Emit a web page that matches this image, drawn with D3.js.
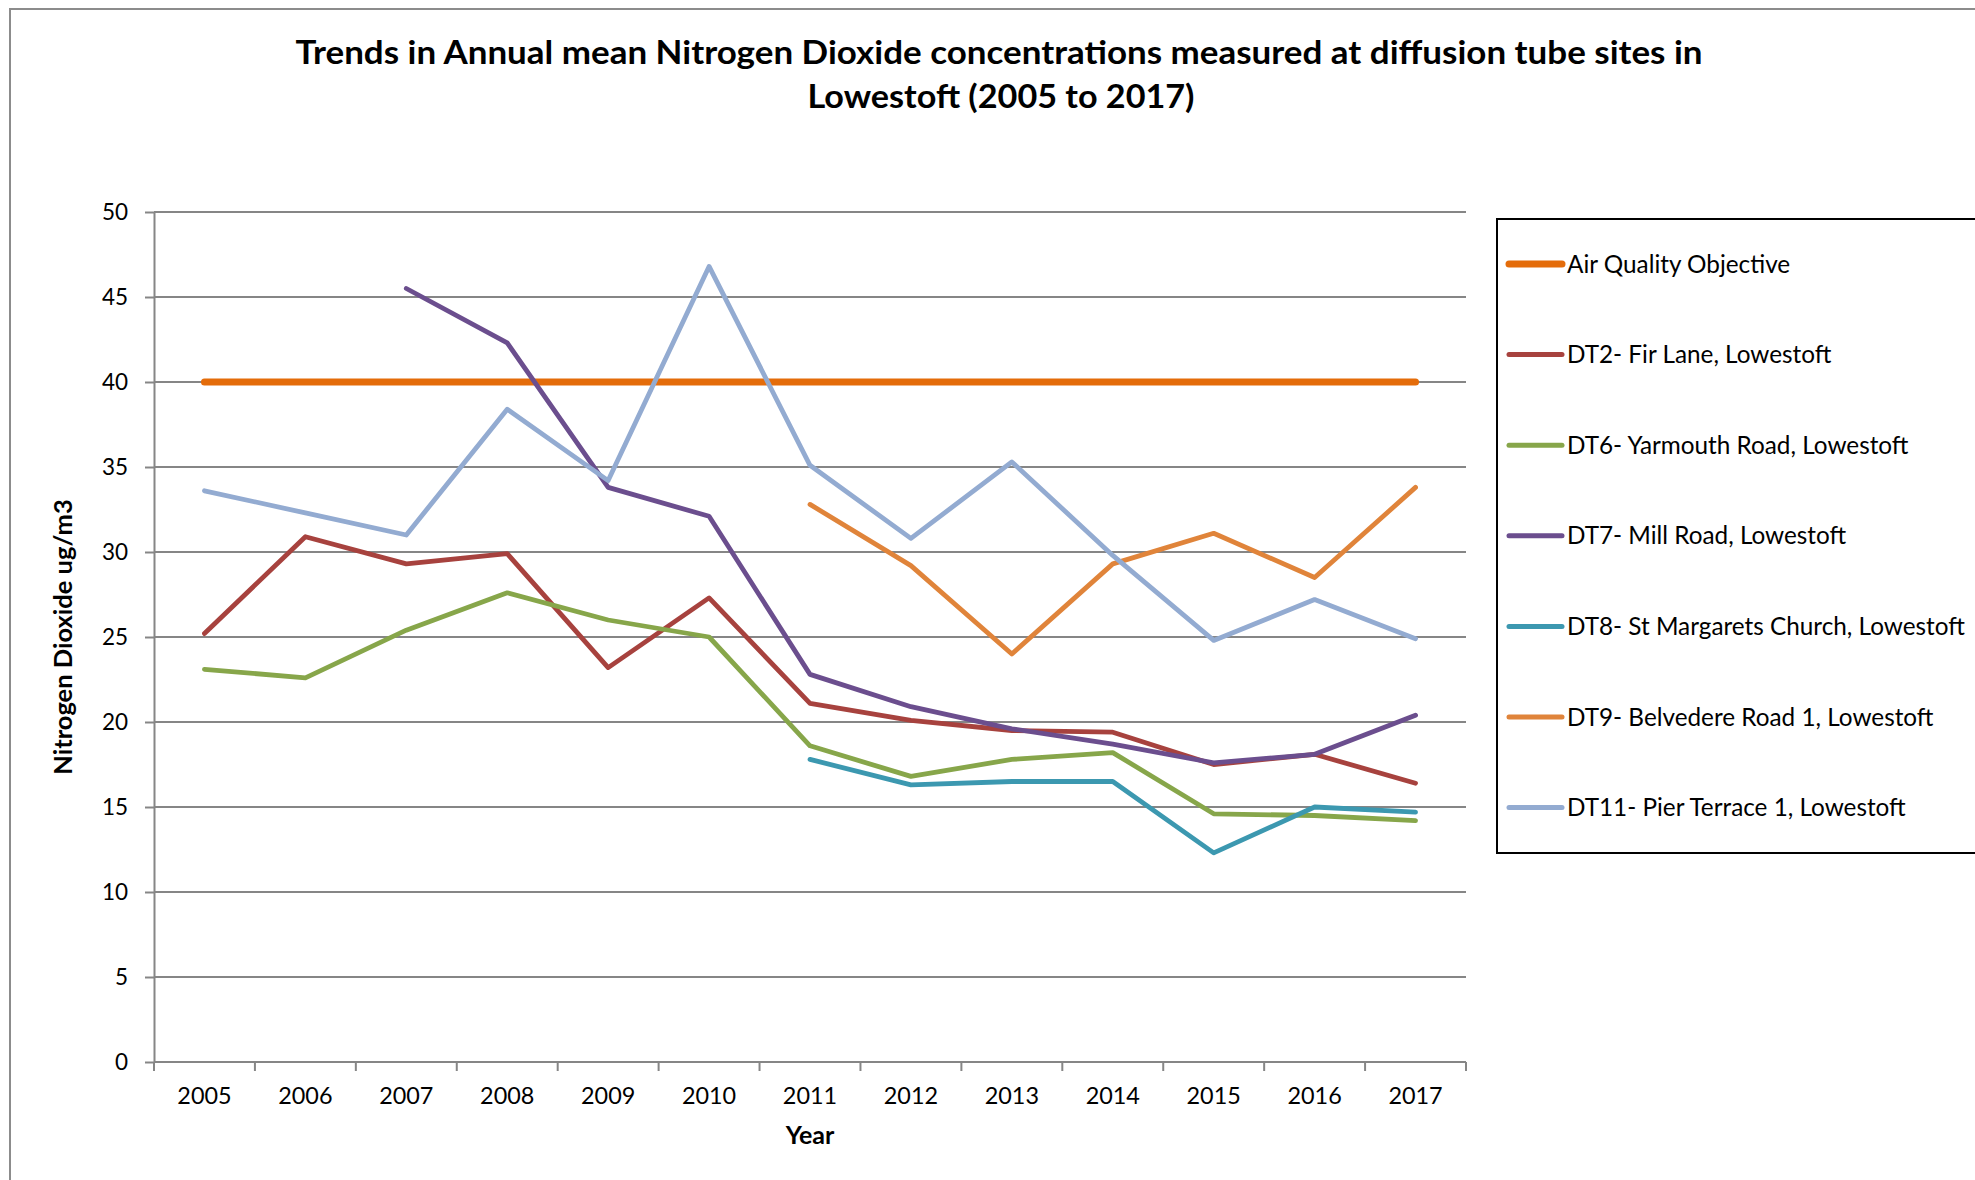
<!DOCTYPE html>
<html>
<head>
<meta charset="utf-8">
<script src="https://cdn.jsdelivr.net/npm/d3@7"></script>
<style>
  html, body { margin: 0; padding: 0; background: #fff; overflow: hidden; }
  svg { display: block; font-family: Lato, "Open Sans", sans-serif; }
</style>
</head>
<body>
<svg id="chart" width="1975" height="1180"></svg>
<script>
// ---------- data ----------
const years = ["2005","2006","2007","2008","2009","2010","2011","2012","2013","2014","2015","2016","2017"];
const yTicks = [0, 5, 10, 15, 20, 25, 30, 35, 40, 45, 50];
const seriesNames = [
  "Air Quality Objective",
  "DT2- Fir Lane, Lowestoft",
  "DT6- Yarmouth Road, Lowestoft",
  "DT7- Mill Road, Lowestoft",
  "DT8- St Margarets Church, Lowestoft",
  "DT9- Belvedere Road 1, Lowestoft",
  "DT11- Pier Terrace 1, Lowestoft"
];
const aqo  = [40, 40, 40, 40, 40, 40, 40, 40, 40, 40, 40, 40, 40];
const dt2  = [25.2, 30.9, 29.3, 29.9, 23.2, 27.3, 21.1, 20.1, 19.5, 19.4, 17.5, 18.1, 16.4];
const dt6  = [23.1, 22.6, 25.4, 27.6, 26.0, 25.0, 18.6, 16.8, 17.8, 18.2, 14.6, 14.5, 14.2];
const dt7  = [null, null, 45.5, 42.3, 33.8, 32.1, 22.8, 20.9, 19.6, 18.7, 17.6, 18.1, 20.4];
const dt8  = [null, null, null, null, null, null, 17.8, 16.3, 16.5, 16.5, 12.3, 15.0, 14.7];
const dt9  = [null, null, null, null, null, null, 32.8, 29.2, 24.0, 29.3, 31.1, 28.5, 33.8];
const dt11 = [33.6, 32.3, 31.0, 38.4, 34.2, 46.8, 35.1, 30.8, 35.3, 29.8, 24.8, 27.2, 24.9];
const seriesColors = ["#E46C0A", "#A7423E", "#87A64A", "#6B4E8E", "#3C98B0", "#E0843A", "#93ABD1"];
const seriesValues = [aqo, dt2, dt6, dt7, dt8, dt9, dt11];

// ---------- layout ----------
const svg = d3.select("#chart");
const plot = { left: 154, right: 1466, top: 212, bottom: 1062 };
const gridColor = "#868686";

// outer chart frame
svg.append("rect")
  .attr("x", 10).attr("y", 9).attr("width", 2100).attr("height", 1400)
  .attr("fill", "#fff").attr("stroke", "#8c8c8c").attr("stroke-width", 2);

// title
const title = svg.append("g").attr("font-weight", 700).attr("font-size", 31.5).attr("fill", "#000").attr("text-anchor", "middle");
title.append("text").attr("x", 999).attr("y", 64)
  .attr("textLength", 1407).attr("lengthAdjust", "spacingAndGlyphs")
  .text("Trends in Annual mean Nitrogen Dioxide concentrations measured at diffusion tube sites in");
title.append("text").attr("x", 1001).attr("y", 108)
  .attr("textLength", 387).attr("lengthAdjust", "spacingAndGlyphs")
  .text("Lowestoft (2005 to 2017)");

// scales
const xBand = d3.scaleBand().domain(years).range([plot.left, plot.right]);
const xPoint = d3.scalePoint().domain(years).range([plot.left, plot.right]).padding(0.5);
const y = d3.scaleLinear().domain([0, 50]).range([plot.bottom, plot.top]);

// gridlines
svg.append("g").selectAll("line").data(yTicks).join("line")
  .attr("x1", plot.left).attr("x2", plot.right)
  .attr("y1", d => y(d)).attr("y2", d => y(d))
  .attr("stroke", gridColor).attr("stroke-width", 2);

// y axis
const yAxis = svg.append("g").attr("transform", `translate(${plot.left},0)`)
  .call(d3.axisLeft(y).tickValues(yTicks).tickSize(9).tickPadding(17).tickSizeOuter(0));
yAxis.select(".domain").attr("stroke", gridColor).attr("stroke-width", 2);
yAxis.selectAll(".tick line").attr("stroke", gridColor).attr("stroke-width", 2);
yAxis.selectAll(".tick text").attr("font-family", "Lato, sans-serif").attr("font-size", 22.5).attr("fill", "#000");

// x axis: line, boundary ticks and labels
const xg = svg.append("g");
xg.append("line").attr("x1", plot.left).attr("x2", plot.right)
  .attr("y1", y(0)).attr("y2", y(0)).attr("stroke", gridColor).attr("stroke-width", 2);
const boundaries = years.map(d => xBand(d)).concat([xBand(years[years.length - 1]) + xBand.bandwidth()]);
xg.selectAll("line.tk").data(boundaries).join("line").attr("class", "tk")
  .attr("x1", d => d).attr("x2", d => d)
  .attr("y1", y(0)).attr("y2", y(0) + 9)
  .attr("stroke", gridColor).attr("stroke-width", 2);
xg.selectAll("text").data(years).join("text")
  .attr("x", d => xPoint(d)).attr("y", 1104)
  .attr("text-anchor", "middle").attr("font-size", 23.4).attr("fill", "#000")
  .text(d => d);

// axis titles
svg.append("text").attr("x", 810).attr("y", 1144)
  .attr("text-anchor", "middle").attr("font-weight", 700).attr("font-size", 25)
  .text("Year");
svg.append("text").attr("transform", "translate(72,637) rotate(-90)")
  .attr("text-anchor", "middle").attr("font-weight", 700).attr("font-size", 25.5)
  .text("Nitrogen Dioxide ug/m3");

// series lines
const line = d3.line()
  .defined(d => d.v != null)
  .x(d => xPoint(d.year))
  .y(d => y(d.v));

const lines = svg.append("g");
seriesValues.forEach((vals, i) => {
  const pts = years.map((yr, j) => ({ year: yr, v: vals[j] }));
  lines.append("path")
    .datum(pts)
    .attr("d", line)
    .attr("fill", "none")
    .attr("stroke", seriesColors[i])
    .attr("stroke-width", i === 0 ? 7 : 4.8)
    .attr("stroke-linecap", "round")
    .attr("stroke-linejoin", "round");
});

// legend
const legend = svg.append("g");
legend.append("rect")
  .attr("x", 1497).attr("y", 219).attr("width", 600).attr("height", 634)
  .attr("fill", "#fff").attr("stroke", "#000").attr("stroke-width", 2);
const legendY = d3.scalePoint().domain(seriesNames).range([264, 807.6]);
const items = legend.selectAll("g.item").data(seriesNames).join("g").attr("class", "item")
  .attr("transform", d => `translate(0,${legendY(d)})`);
items.append("line")
  .attr("x1", 1509).attr("x2", 1562).attr("y1", 0).attr("y2", 0)
  .attr("stroke", (d, i) => seriesColors[i])
  .attr("stroke-width", (d, i) => i === 0 ? 7 : 5)
  .attr("stroke-linecap", "round");
items.append("text")
  .attr("x", 1567).attr("y", 8.5)
  .attr("font-size", 24.3).attr("fill", "#000")
  .text(d => d);
</script>
</body>
</html>
